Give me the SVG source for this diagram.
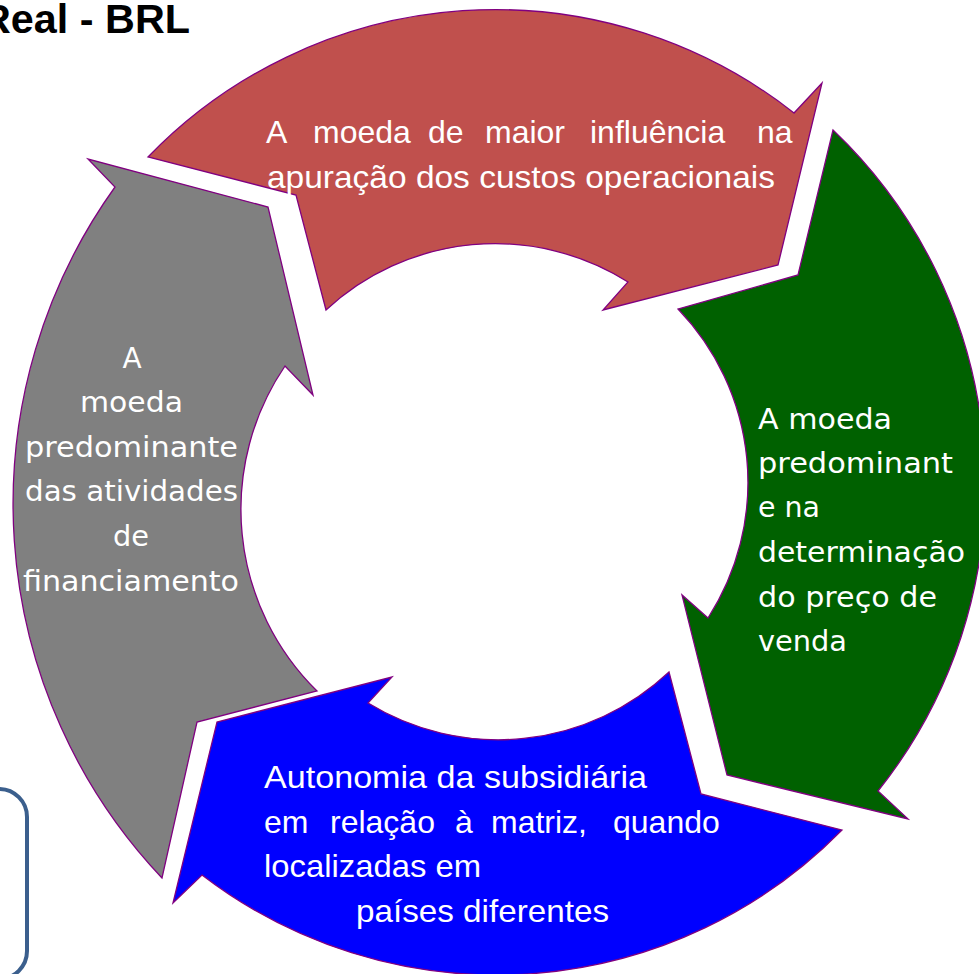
<svg xmlns="http://www.w3.org/2000/svg" width="979" height="974" viewBox="0 0 979 974">
<style>
.arrow{stroke:#800080;stroke-width:1.3;stroke-linejoin:miter}
.t1{font-family:"Liberation Sans",Arial,sans-serif;font-size:32px;fill:#ffffff}
.t2{font-family:"DejaVu Sans",Verdana,sans-serif;font-size:28px;fill:#ffffff}
.title{font-family:"Liberation Sans",Arial,sans-serif;font-size:40px;font-weight:bold;fill:#000000}
</style>
<rect width="979" height="974" fill="#ffffff"/>
<text class="title" x="-19" y="33" textLength="209" lengthAdjust="spacingAndGlyphs">Real - BRL</text>
<g id="node-red">
<path class="arrow" fill="#C0504D" d="M148,157 A483,483 0 0 1 794,113 L822,83 L778,265 L603,310 L628,282 A249,249 0 0 0 326,310 L296,195 Z"/>
<text class="t1" y="143"><tspan x="266">A</tspan><tspan x="313">moeda</tspan><tspan x="428">de</tspan><tspan x="485">maior</tspan><tspan x="590">influência</tspan><tspan x="757">na</tspan></text>
<text class="t1" x="267" y="188" textLength="508" lengthAdjust="spacingAndGlyphs">apuração dos custos operacionais</text>
</g>
<g id="node-green">
<path class="arrow" fill="#006100" d="M833,130 A490,490 0 0 1 878,791 L908,819 L727,775 L682,595 L708,618 A250,250 0 0 0 678,309 L798,275 Z"/>
<text class="t2" x="758" y="429" textLength="134" lengthAdjust="spacingAndGlyphs">A moeda</text>
<text class="t2" x="758" y="473" textLength="195" lengthAdjust="spacingAndGlyphs">predominant</text>
<text class="t2" x="758" y="517" textLength="62" lengthAdjust="spacingAndGlyphs">e na</text>
<text class="t2" x="758" y="562" textLength="207" lengthAdjust="spacingAndGlyphs">determinação</text>
<text class="t2" x="758" y="607" textLength="179" lengthAdjust="spacingAndGlyphs">do preço de</text>
<text class="t2" x="758" y="651" textLength="89" lengthAdjust="spacingAndGlyphs">venda</text>
</g>
<g id="node-blue">
<path class="arrow" fill="#0000FF" d="M842,830 A484,484 0 0 1 202,875 L173,903 L217,722 L392,677 L368,703 A249,249 0 0 0 669,672 L701,794 Z"/>
<text class="t1" x="264" y="788" textLength="383" lengthAdjust="spacingAndGlyphs">Autonomia da subsidiária</text>
<text class="t1" y="833"><tspan x="264">em</tspan><tspan x="330">relação</tspan><tspan x="455">à</tspan><tspan x="491">matriz,</tspan><tspan x="613">quando</tspan></text>
<text class="t1" x="264" y="877" textLength="217" lengthAdjust="spacingAndGlyphs">localizadas em</text>
<text class="t1" x="356" y="922" textLength="253" lengthAdjust="spacingAndGlyphs">países diferentes</text>
</g>
<g id="node-gray">
<path class="arrow" fill="#808080" d="M162,878 A544,544 0 0 1 115,187 L88,159 L268,207 L313,395 L285,366 A255,255 0 0 0 317,691 L197,722 Z"/>
<text class="t2" x="132" y="368" text-anchor="middle">A</text>
<text class="t2" x="131.5" y="412" text-anchor="middle" textLength="103" lengthAdjust="spacingAndGlyphs">moeda</text>
<text class="t2" x="131.5" y="457" text-anchor="middle" textLength="213" lengthAdjust="spacingAndGlyphs">predominante</text>
<text class="t2" x="131.5" y="501" text-anchor="middle" textLength="213" lengthAdjust="spacingAndGlyphs">das atividades</text>
<text class="t2" x="131" y="546" text-anchor="middle" textLength="36" lengthAdjust="spacingAndGlyphs">de</text>
<text class="t2" x="131" y="591" text-anchor="middle" textLength="216" lengthAdjust="spacingAndGlyphs">financiamento</text>
</g>
<g id="node-box">
<rect x="-40" y="789" width="67" height="190" rx="28" ry="28" fill="none" stroke="#3B5F8D" stroke-width="4"/>
</g>
<g id="connectors"></g>
</svg>
